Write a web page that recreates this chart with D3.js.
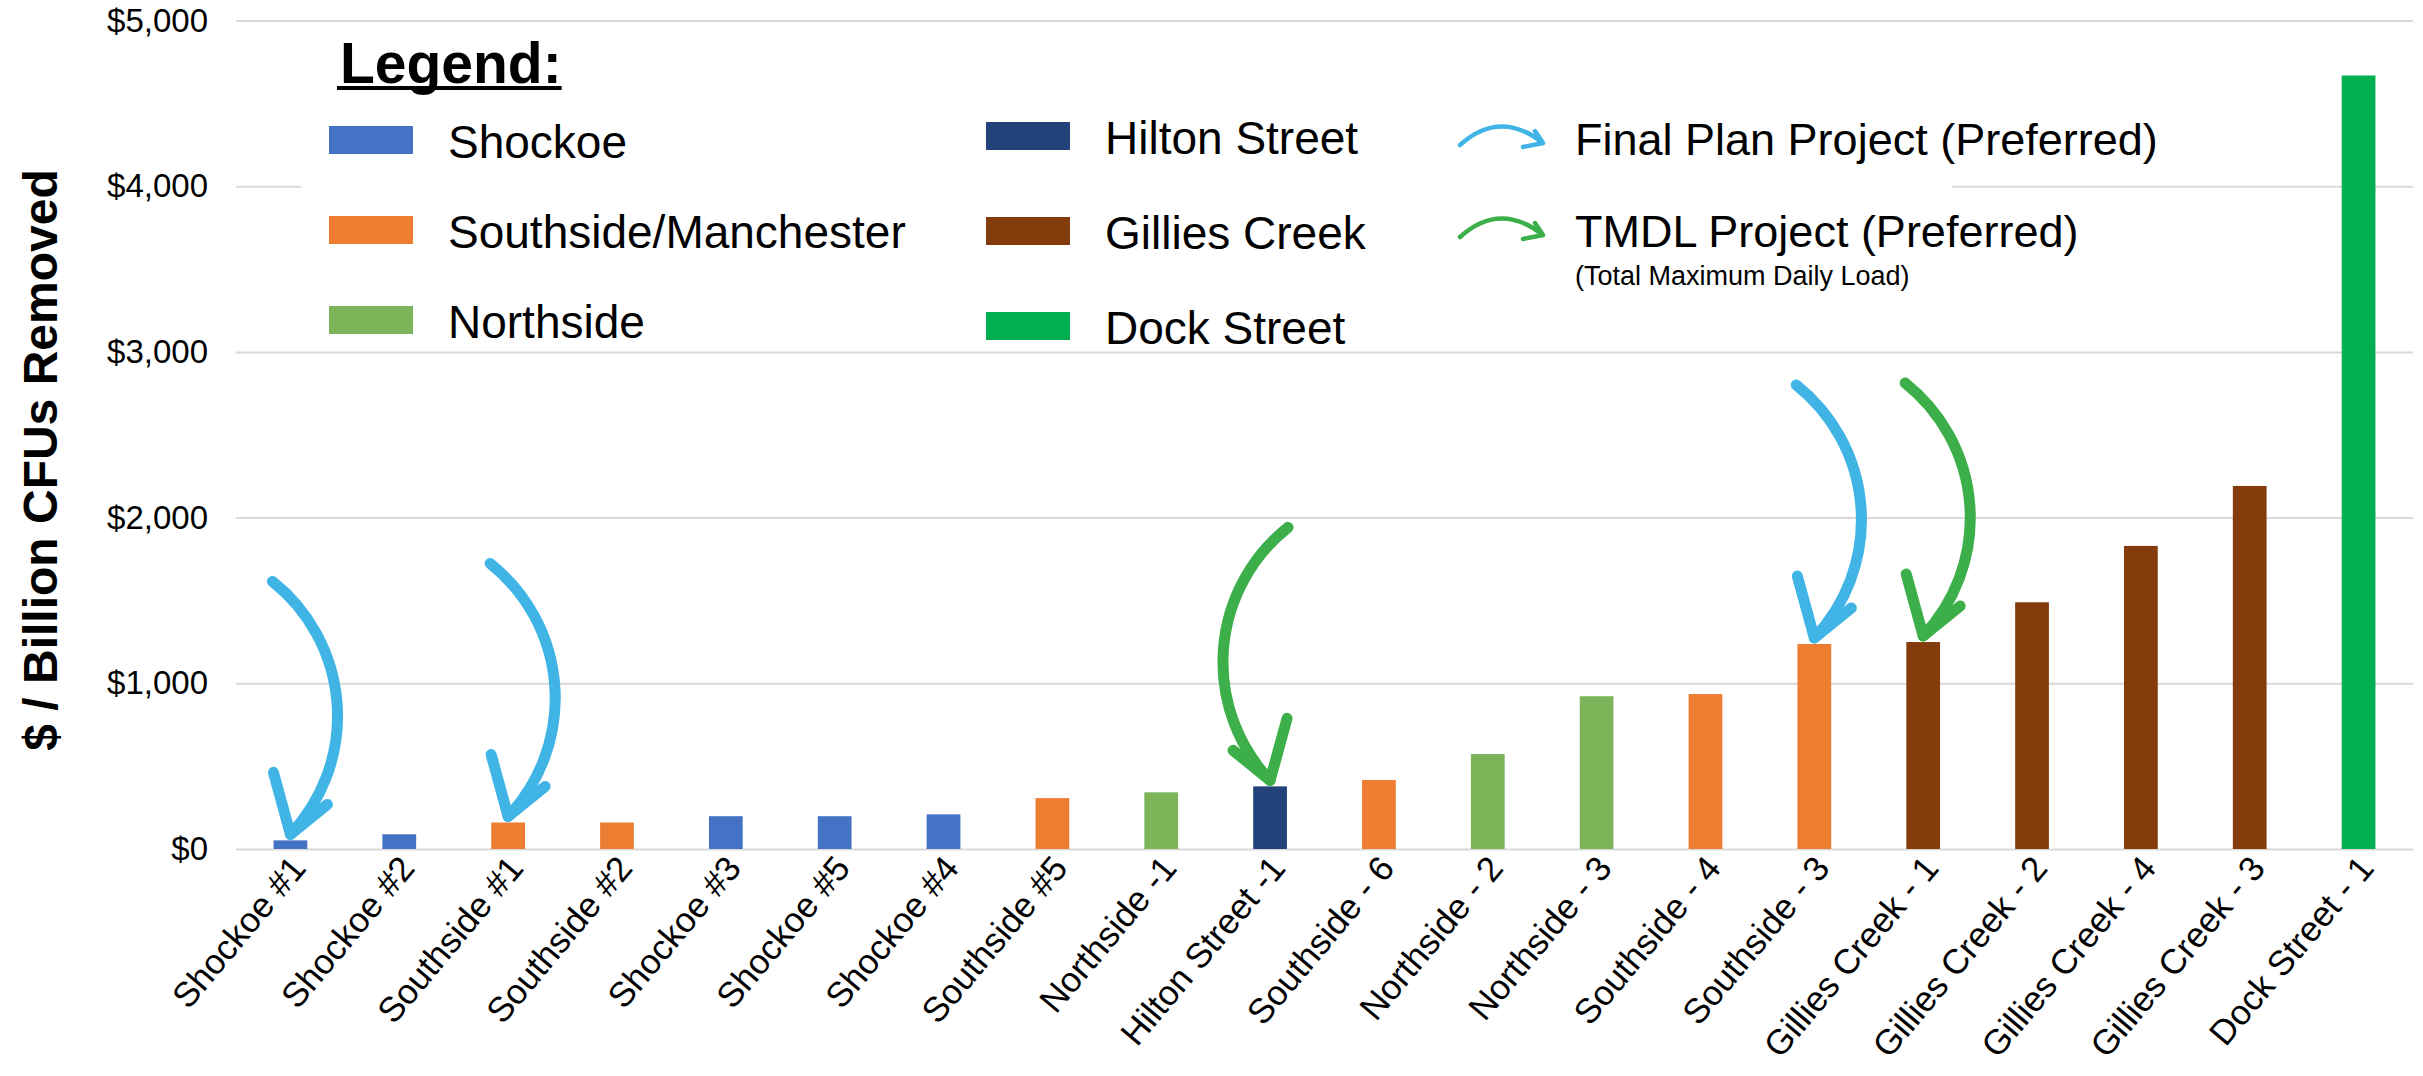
<!DOCTYPE html>
<html>
<head>
<meta charset="utf-8">
<script src="https://cdn.jsdelivr.net/npm/d3@7"></script>
<style>
  body { margin: 0; background: #fff; }
  text { font-family: "Liberation Sans", Arial, sans-serif; }
</style>
</head>
<body>
<div id="chart"></div>
<script>
(function() {
    var width = 2423;
    var height = 1076;

    // data
    var categories = ["Shockoe #1", "Shockoe #2", "Southside #1", "Southside #2", "Shockoe #3",
        "Shockoe #5", "Shockoe #4", "Southside #5", "Northside -1", "Hilton Street -1",
        "Southside - 6", "Northside - 2", "Northside - 3", "Southside - 4", "Southside - 3",
        "Gillies Creek - 1", "Gillies Creek - 2", "Gillies Creek - 4", "Gillies Creek - 3", "Dock Street - 1"];
    var costs = [52, 89, 160, 160, 198, 198, 209, 307, 342, 378,
        416, 573, 922, 935, 1237, 1249, 1489, 1829, 2191, 4668];
    var areas = ["Shockoe", "Shockoe", "Southside/Manchester", "Southside/Manchester", "Shockoe",
        "Shockoe", "Shockoe", "Southside/Manchester", "Northside", "Hilton Street",
        "Southside/Manchester", "Northside", "Northside", "Southside/Manchester", "Southside/Manchester",
        "Gillies Creek", "Gillies Creek", "Gillies Creek", "Gillies Creek", "Dock Street"];
    var areaNames = ["Shockoe", "Southside/Manchester", "Northside", "Hilton Street", "Gillies Creek", "Dock Street"];
    var areaColors = ["#4472c4", "#ed7d31", "#7cb45a", "#23427a", "#843c0c", "#00b050"];
    var yTicks = [0, 1000, 2000, 3000, 4000, 5000];

    var finalPlan = ["Shockoe #1", "Southside #1", "Southside - 3"];
    var tmdl = ["Hilton Street -1", "Gillies Creek - 1"];
    var flipped = ["Hilton Street -1"];

    var blueArrow = "#41b4e6";
    var greenArrow = "#3daf4a";

    var rows = categories.map(function(c, i) {
        return {cat: c, v: costs[i], area: areas[i]};
    });

    var svg = d3.select("#chart").append("svg")
        .attr("width", width)
        .attr("height", height);

    svg.append("rect").attr("width", width).attr("height", height).attr("fill", "#fff");

    var left = 236, right = 2413, top = 20.5, bottom = 849;

    var x = d3.scaleBand().domain(categories).range([left, right])
        .paddingInner(0.69).paddingOuter(0.345);
    var y = d3.scaleLinear().domain([0, 5000]).range([bottom, top]);
    var color = d3.scaleOrdinal().domain(areaNames).range(areaColors);

    // grid
    var grid = svg.append("g")
        .attr("transform", "translate(" + left + ",0)")
        .call(d3.axisLeft(y).tickValues(yTicks).tickSize(-(right - left)).tickFormat(""));
    grid.select(".domain").remove();
    grid.selectAll("line").attr("stroke", "#d9d9d9").attr("stroke-width", 2);

    // y tick labels
    var yAxis = svg.append("g")
        .attr("transform", "translate(" + left + ",0)")
        .call(d3.axisLeft(y).tickValues(yTicks).tickSize(0).tickPadding(28)
            .tickFormat(function(d) { return "$" + d3.format(",")(d); }));
    yAxis.select(".domain").remove();
    yAxis.selectAll("text")
        .attr("font-family", "Liberation Sans, Arial, sans-serif")
        .attr("font-size", "33px")
        .attr("fill", "#000");

    svg.append("text")
        .attr("transform", "translate(57,460) rotate(-90)")
        .attr("text-anchor", "middle")
        .attr("font-size", "48px")
        .attr("font-weight", "bold")
        .attr("fill", "#000")
        .text("$ / Billion CFUs Removed");

    //legend
    var legend = svg.append("g");
    legend.append("rect")
        .attr("x", 301).attr("y", 30)
        .attr("width", 1651).attr("height", 318)
        .attr("fill", "#fff");

    var title = legend.append("text")
        .attr("x", 340).attr("y", 83)
        .attr("font-size", "57px")
        .attr("font-weight", "bold")
        .attr("fill", "#000")
        .text("Legend:");
    var titleLen = title.node().getComputedTextLength();
    legend.append("rect")
        .attr("x", 337).attr("y", 86)
        .attr("width", titleLen + 3).attr("height", 4)
        .attr("fill", "#000");

    var items = legend.selectAll(".item")
        .data(areaNames)
        .enter()
        .append("g")
        .attr("class", "item")
        .attr("transform", function(d, i) {
            var col = Math.floor(i / 3), r = i % 3;
            var sx = col === 0 ? 329 : 986;
            var sy = col === 0 ? 126 + r * 90 : 122 + r * 95;
            return "translate(" + sx + "," + sy + ")";
        });
    items.append("rect")
        .attr("width", 84).attr("height", 28)
        .attr("fill", function(d) { return color(d); });
    items.append("text")
        .attr("x", 119).attr("y", 32)
        .attr("font-size", "46px")
        .attr("fill", "#000")
        .text(function(d) { return d; });

    var keyArrows = [
        {label: "Final Plan Project (Preferred)", col: blueArrow, ay: 145, ty: 155},
        {label: "TMDL Project (Preferred)", col: greenArrow, ay: 237, ty: 247}
    ];
    keyArrows.forEach(function(k) {
        var g = legend.append("g").attr("transform", "translate(1460," + k.ay + ")");
        g.append("path")
            .attr("d", "M0,0 Q40,-36 83,-2 M75,-14 L83,-2 L63,2")
            .attr("fill", "none")
            .attr("stroke", k.col)
            .attr("stroke-width", 4.5)
            .attr("stroke-linecap", "round")
            .attr("stroke-linejoin", "round");
        legend.append("text")
            .attr("x", 1575).attr("y", k.ty)
            .attr("font-size", "45px")
            .attr("fill", "#000")
            .text(k.label);
    });
    legend.append("text")
        .attr("x", 1575).attr("y", 285)
        .attr("font-size", "27px")
        .attr("fill", "#000")
        .text("(Total Maximum Daily Load)");

    // bars
    svg.selectAll(".bar")
        .data(rows)
        .enter()
        .append("rect")
        .attr("class", "bar")
        .attr("x", function(d) { return x(d.cat); })
        .attr("width", x.bandwidth())
        .attr("y", function(d) { return y(d.v); })
        .attr("height", function(d) { return y(0) - y(d.v); })
        .attr("fill", function(d) { return color(d.area); });

    // x labels
    svg.selectAll(".xlab")
        .data(categories)
        .enter()
        .append("text")
        .attr("class", "xlab")
        .attr("transform", function(d) {
            var cx = x(d) + x.bandwidth() / 2;
            return "translate(" + (cx + 17) + "," + (bottom + 20) + ") rotate(-50)";
        })
        .attr("text-anchor", "end")
        .attr("font-size", "35px")
        .attr("fill", "#000")
        .text(function(d) { return d; });

    // hand drawn arrows pointing at the preferred projects
    var shaft = "M-18,-253 A172,172 0 0,1 0,0";
    var head = "M-17,-62 L0,0 L37,-30";

    var marked = finalPlan.map(function(c) { return {cat: c, col: blueArrow}; })
        .concat(tmdl.map(function(c) { return {cat: c, col: greenArrow}; }));

    var arrows = svg.selectAll(".arrow")
        .data(marked)
        .enter()
        .append("g")
        .attr("class", "arrow")
        .attr("transform", function(d) {
            var i = categories.indexOf(d.cat);
            var cx = x(d.cat) + x.bandwidth() / 2;
            var flip = flipped.indexOf(d.cat) >= 0 ? -1 : 1;
            return "translate(" + cx + "," + (y(costs[i]) - 6) + ") scale(" + flip + ",1)";
        });
    arrows.append("path")
        .attr("d", shaft)
        .attr("fill", "none")
        .attr("stroke", function(d) { return d.col; })
        .attr("stroke-width", 11)
        .attr("stroke-linecap", "round");
    arrows.append("path")
        .attr("d", head)
        .attr("fill", "none")
        .attr("stroke", function(d) { return d.col; })
        .attr("stroke-width", 11)
        .attr("stroke-linecap", "round")
        .attr("stroke-linejoin", "round");
})();
</script>
</body>
</html>
